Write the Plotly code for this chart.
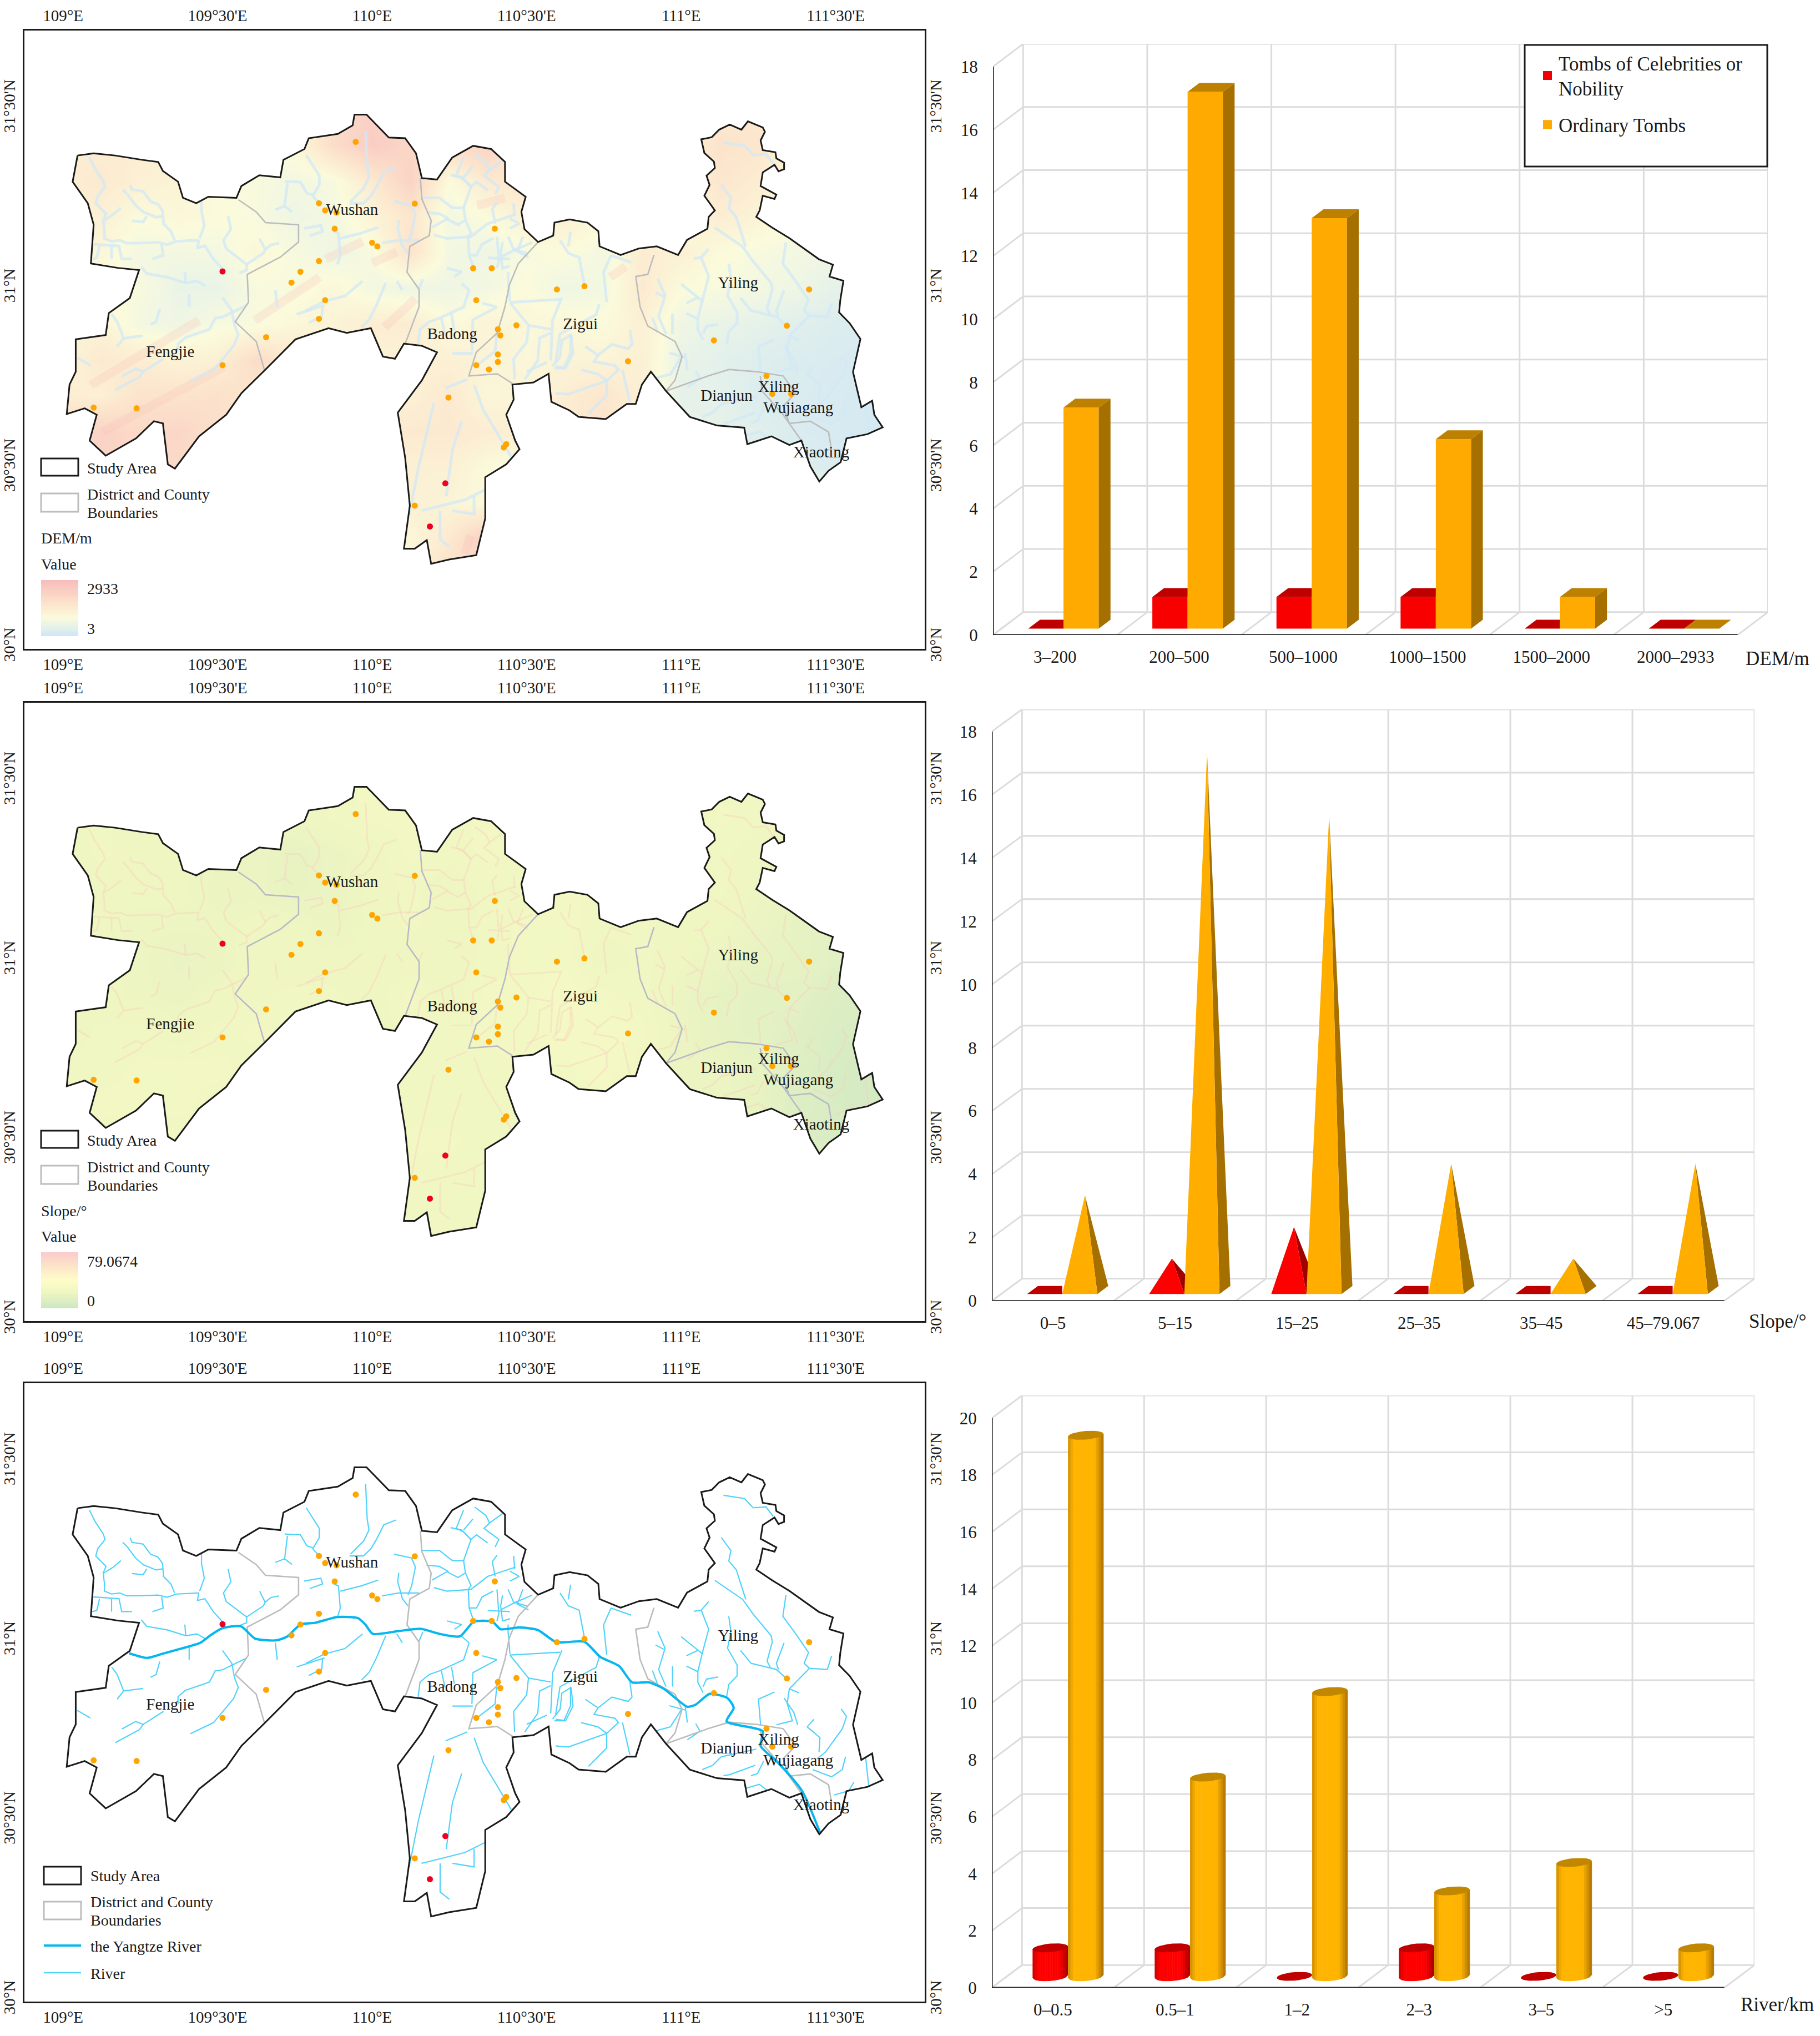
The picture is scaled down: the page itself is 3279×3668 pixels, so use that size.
import math
import plotly.graph_objects as go

W, H = 3279, 3668
FONT = "Liberation Serif"

# ---------- DATA ----------
outline_lon = [109.047,109.099,109.168,109.255,109.308,109.323,109.372,109.388,109.431,109.470,109.561,109.577,109.635,109.703,109.713,109.781,109.795,109.889,109.937,109.943,109.982,110.054,110.107,110.142,110.161,110.210,110.259,110.327,110.385,110.430,110.430,110.497,110.483,110.493,110.537,110.586,110.590,110.639,110.697,110.732,110.736,110.804,110.863,110.921,110.990,111.019,111.085,111.089,111.109,111.075,111.092,111.082,111.109,111.106,111.075,111.065,111.099,111.123,111.157,111.195,111.216,111.264,111.271,111.257,111.264,111.305,111.308,111.333,111.333,111.315,111.302,111.264,111.257,111.308,111.302,111.264,111.254,111.243,111.295,111.350,111.446,111.491,111.480,111.525,111.515,111.511,111.545,111.580,111.556,111.583,111.618,111.625,111.652,111.603,111.535,111.516,111.477,111.447,111.418,111.389,111.350,111.292,111.214,111.204,111.116,111.028,110.951,110.902,110.873,110.853,110.824,110.756,110.668,110.639,110.580,110.571,110.522,110.454,110.458,110.434,110.463,110.477,110.434,110.366,110.366,110.337,110.249,110.191,110.177,110.138,110.103,110.122,110.107,110.083,110.161,110.210,110.161,110.103,110.074,110.035,109.996,109.918,109.859,109.752,109.655,109.577,109.528,109.440,109.362,109.339,109.323,109.294,109.236,109.138,109.086,109.109,109.070,109.012,109.021,109.041,109.041,109.138,109.148,109.216,109.246,109.177,109.090,109.099,109.080,109.031,109.047]
outline_lat = [31.369,31.375,31.369,31.357,31.351,31.326,31.296,31.251,31.236,31.254,31.251,31.284,31.314,31.308,31.357,31.387,31.417,31.429,31.453,31.483,31.483,31.419,31.417,31.375,31.306,31.302,31.363,31.396,31.387,31.351,31.296,31.254,31.212,31.164,31.128,31.146,31.182,31.191,31.182,31.158,31.116,31.092,31.110,31.116,31.092,31.134,31.165,31.198,31.216,31.257,31.287,31.313,31.334,31.352,31.376,31.414,31.420,31.441,31.455,31.441,31.464,31.447,31.435,31.411,31.384,31.378,31.361,31.349,31.331,31.325,31.343,31.322,31.284,31.260,31.248,31.257,31.216,31.198,31.168,31.139,31.080,31.065,31.032,31.020,30.967,30.932,30.902,30.858,30.766,30.668,30.686,30.647,30.612,30.593,30.581,30.515,30.491,30.461,30.503,30.575,30.563,30.587,30.565,30.611,30.617,30.641,30.713,30.767,30.731,30.677,30.677,30.635,30.641,30.659,30.683,30.761,30.737,30.731,30.689,30.647,30.575,30.551,30.509,30.473,30.358,30.256,30.244,30.232,30.298,30.274,30.274,30.394,30.527,30.653,30.743,30.821,30.839,30.845,30.803,30.809,30.888,30.875,30.888,30.857,30.773,30.707,30.647,30.587,30.497,30.509,30.623,30.629,30.581,30.533,30.575,30.647,30.665,30.649,30.731,30.767,30.857,30.869,30.930,30.972,31.050,31.056,31.068,31.176,31.236,31.296,31.369]

boundaries = [
    [(109.567,31.246),(109.625,31.212),(109.655,31.182),(109.762,31.176),(109.762,31.128),(109.703,31.086),(109.596,31.038),(109.600,30.960),(109.557,30.906),(109.625,30.851),(109.651,30.773)],
    [(110.156,31.306),(110.161,31.248),(110.191,31.188),(110.185,31.146),(110.122,31.116),(110.113,31.044),(110.152,30.996),(110.152,30.948),(110.107,30.845)],
    [(110.537,31.128),(110.473,31.068),(110.444,31.008),(110.430,30.948),(110.405,30.875),(110.337,30.821),(110.313,30.755),(110.405,30.761),(110.454,30.734)],
    [(110.912,31.092),(110.892,31.038),(110.853,31.032),(110.867,30.948),(110.892,30.894),(110.980,30.851),(111.003,30.809),(110.980,30.743),(110.951,30.713)],
    [(110.951,30.713),(111.087,30.755),(111.155,30.773),(111.243,30.767),(111.330,30.755),(111.370,30.707),(111.330,30.671),(111.350,30.623),(111.418,30.629),(111.477,30.599),(111.486,30.551)],
    [(111.256,30.755),(111.262,30.713),(111.330,30.647),(111.389,30.575)],
]

yangtze = [(109.214,30.965),(109.271,30.952),(109.319,30.963),(109.361,30.973),(109.444,30.994),(109.480,31.017),(109.516,31.035),(109.576,31.040),(109.621,31.006),(109.690,31.001),(109.726,31.012),(109.768,31.045),(109.816,31.050),(109.888,31.066),(109.954,31.063),(109.978,31.045),(110.002,31.019),(110.086,31.027),(110.158,31.033),(110.218,31.019),(110.284,31.012),(110.329,31.053),(110.389,31.053),(110.416,31.032),(110.476,31.037),(110.536,31.030),(110.596,30.996),(110.687,30.997),(110.738,30.955),(110.800,30.929),(110.841,30.884),(110.896,30.884),(110.944,30.866),(111.020,30.816),(111.047,30.822),(111.092,30.852),(111.150,30.840),(111.170,30.813),(111.147,30.775),(111.264,30.748),(111.257,30.707),(111.315,30.659),(111.391,30.582),(111.451,30.462)]

rivers = [
    [(109.085,31.364),(109.103,31.333),(109.130,31.297),(109.136,31.282),(109.112,31.256),(109.106,31.236),(109.139,31.207),(109.130,31.189),(109.134,31.158),(109.134,31.138),(109.157,31.130),(109.184,31.133),(109.205,31.125),(109.241,31.125),(109.307,31.127),(109.337,31.121),(109.367,31.130),(109.439,31.133)],
    [(109.439,31.133),(109.435,31.112),(109.459,31.117),(109.486,31.081),(109.519,31.050)],
    [(109.448,31.241),(109.448,31.215),(109.457,31.174),(109.442,31.138)],
    [(109.067,31.179),(109.073,31.143),(109.097,31.122),(109.181,31.117),(109.190,31.081),(109.223,31.081)],
    [(109.118,31.117),(109.109,31.084),(109.094,31.081)],
    [(109.157,31.117),(109.157,31.081)],
    [(109.319,31.122),(109.324,31.091),(109.289,31.081)],
    [(109.193,31.274),(109.208,31.261),(109.235,31.230),(109.259,31.212),(109.301,31.197),(109.322,31.200)],
    [(109.217,31.287),(109.223,31.274),(109.259,31.269),(109.283,31.241),(109.307,31.233),(109.322,31.215),(109.325,31.179),(109.349,31.158),(109.361,31.133)],
    [(109.187,31.223),(109.163,31.205),(109.133,31.189)],
    [(109.271,31.200),(109.259,31.184),(109.223,31.187)],
    [(109.253,31.058),(109.271,31.040),(109.337,31.030),(109.397,31.014),(109.433,31.019),(109.460,31.006)],
    [(109.394,31.045),(109.397,31.014)],
    [(109.534,31.200),(109.543,31.164),(109.519,31.133),(109.528,31.109),(109.594,31.066),(109.594,31.050),(109.570,31.042)],
    [(109.594,31.066),(109.648,31.097),(109.654,31.107),(109.636,31.138)],
    [(109.654,31.107),(109.672,31.120),(109.699,31.125)],
    [(109.787,31.370),(109.829,31.313),(109.829,31.287),(109.808,31.256),(109.829,31.236)],
    [(109.717,31.297),(109.768,31.295),(109.789,31.264),(109.808,31.259)],
    [(109.726,31.292),(109.717,31.228),(109.687,31.218)],
    [(109.717,31.228),(109.741,31.212)],
    [(109.780,31.166),(109.834,31.174),(109.840,31.158),(109.798,31.145)],
    [(109.516,30.973),(109.546,30.937),(109.555,30.896),(109.567,30.870),(109.552,30.839),(109.487,30.772),(109.412,30.741)],
    [(109.594,30.952),(109.546,30.932),(109.516,30.919),(109.492,30.916),(109.474,30.885),(109.396,30.862),(109.372,30.844),(109.372,30.824)],
    [(109.325,30.803),(109.259,30.767),(109.235,30.775),(109.190,30.754)],
    [(109.259,30.767),(109.247,30.752),(109.169,30.716)],
    [(109.157,30.927),(109.175,30.906),(109.196,30.860),(109.259,30.867)],
    [(109.196,30.860),(109.175,30.837)],
    [(109.313,30.942),(109.301,30.906),(109.283,30.898)],
    [(109.408,30.983),(109.408,30.947)],
    [(109.687,30.994),(109.693,30.947)],
    [(109.046,30.806),(109.088,30.785)],
    [(109.756,30.927),(109.846,30.952)],
    [(109.840,30.950),(109.837,30.921),(109.795,30.903)],
    [(109.979,31.437),(109.984,31.339),(109.990,31.308),(109.972,31.277),(109.930,31.241)],
    [(110.077,31.336),(110.038,31.323),(110.014,31.282),(109.996,31.256),(109.972,31.236),(109.927,31.236)],
    [(109.876,31.158),(109.891,31.153),(109.897,31.091),(109.888,31.066)],
    [(109.897,31.138),(109.966,31.153),(110.020,31.169)],
    [(110.032,31.125),(110.086,31.133),(110.152,31.133)],
    [(110.086,31.189),(110.083,31.164),(110.098,31.117),(110.116,31.097)],
    [(110.071,31.241),(110.128,31.230),(110.140,31.205),(110.128,31.153),(110.116,31.127)],
    [(110.158,31.251),(110.218,31.251),(110.260,31.223),(110.296,31.223),(110.302,31.189),(110.278,31.176),(110.242,31.192),(110.194,31.169)],
    [(110.176,31.210),(110.218,31.207),(110.248,31.192)],
    [(110.296,31.223),(110.320,31.282),(110.338,31.295),(110.374,31.272)],
    [(110.320,31.282),(110.290,31.308),(110.254,31.315)],
    [(110.302,31.189),(110.320,31.153),(110.311,31.143),(110.314,31.091),(110.329,31.055)],
    [(110.200,31.148),(110.242,31.138),(110.320,31.143),(110.374,31.179),(110.464,31.205)],
    [(110.398,31.179),(110.389,31.220),(110.404,31.238)],
    [(110.332,31.372),(110.368,31.349),(110.380,31.328),(110.422,31.354)],
    [(110.380,31.328),(110.362,31.313),(110.410,31.282),(110.398,31.261)],
    [(110.296,31.364),(110.272,31.313),(110.296,31.303),(110.320,31.282)],
    [(110.326,31.339),(110.296,31.308)],
    [(110.404,31.143),(110.410,31.076),(110.404,31.055)],
    [(110.392,31.138),(110.356,31.122),(110.338,31.091),(110.314,31.091)],
    [(110.518,31.127),(110.464,31.107),(110.416,31.086)],
    [(110.488,31.143),(110.470,31.102),(110.506,31.086)],
    [(110.440,31.143),(110.458,31.107),(110.500,31.097)],
    [(110.422,31.127),(110.416,31.097),(110.422,31.055),(110.446,31.061)],
    [(110.374,31.084),(110.446,31.081)],
    [(110.440,31.045),(110.440,31.024),(110.446,30.963)],
    [(110.458,31.236),(110.461,31.200)],
    [(110.446,31.194),(110.476,31.179),(110.446,31.166)],
    [(110.608,30.968),(110.446,30.960)],
    [(110.356,30.958),(110.404,30.947),(110.326,30.911),(110.323,30.824)],
    [(110.446,30.960),(110.506,30.896),(110.500,30.849),(110.458,30.803),(110.461,30.746)],
    [(110.614,30.973),(110.584,30.911),(110.578,30.798)],
    [(110.578,30.885),(110.506,30.896)],
    [(110.578,30.875),(110.542,30.860),(110.536,30.798),(110.494,30.746)],
    [(110.566,30.793),(110.500,30.767)],
    [(110.644,30.870),(110.614,30.854),(110.608,30.808),(110.584,30.782)],
    [(110.644,30.870),(110.650,30.818),(110.626,30.777),(110.590,30.777)],
    [(110.314,30.994),(110.296,30.947),(110.218,30.916),(110.185,30.906),(110.155,30.885),(110.149,30.844)],
    [(110.257,30.927),(110.266,30.880)],
    [(110.224,30.916),(110.236,30.870)],
    [(110.290,31.012),(110.314,30.994)],
    [(110.044,31.014),(110.014,30.952),(109.990,30.911),(109.966,30.891)],
    [(109.969,31.019),(109.912,30.978),(109.846,30.963),(109.786,30.937)],
    [(110.164,31.024),(110.152,30.999)],
    [(110.080,31.019),(110.098,30.994)],
    [(110.404,30.880),(110.398,30.824),(110.344,30.788)],
    [(110.260,30.818),(110.326,30.818)],
    [(110.242,31.055),(110.290,31.045),(110.266,31.032)],
    [(110.238,30.721),(110.308,30.746)],
    [(110.608,31.133),(110.635,31.097),(110.670,31.085),(110.687,31.008)],
    [(110.642,31.156),(110.635,31.115)],
    [(110.773,31.091),(110.749,31.044),(110.759,30.961)],
    [(110.773,31.091),(110.838,31.071)],
    [(110.735,30.955),(110.725,30.926),(110.608,30.872),(110.594,30.795)],
    [(110.834,30.884),(110.841,30.843),(110.828,30.831),(110.776,30.843),(110.731,30.813),(110.690,30.837)],
    [(110.731,30.813),(110.718,30.795),(110.786,30.784),(110.797,30.772),(110.759,30.742),(110.635,30.704),(110.594,30.707)],
    [(110.676,30.772),(110.731,30.760),(110.759,30.742),(110.759,30.701),(110.700,30.650)],
    [(110.810,30.772),(110.834,30.683)],
    [(110.642,30.872),(110.642,30.819),(110.621,30.778),(110.594,30.781)],
    [(110.924,31.026),(110.948,30.979),(110.927,30.920),(110.951,30.872)],
    [(110.917,30.988),(110.944,30.976)],
    [(110.972,30.929),(110.972,30.872)],
    [(110.907,30.917),(110.924,30.878)],
    [(111.000,31.011),(111.068,30.964),(111.089,31.032),(111.065,31.085),(111.089,31.109)],
    [(111.041,31.082),(111.065,31.085)],
    [(111.017,30.958),(111.054,30.973)],
    [(111.068,30.964),(111.054,30.914),(111.054,30.884),(111.071,30.855)],
    [(111.017,30.929),(111.054,30.914)],
    [(111.120,30.899),(111.082,30.893),(111.071,30.872)],
    [(111.154,31.068),(111.161,31.026),(111.150,30.979),(111.181,30.932),(111.181,30.902),(111.154,30.878),(111.147,30.843)],
    [(111.130,31.287),(111.161,31.251),(111.154,31.222),(111.178,31.198),(111.209,31.115)],
    [(111.109,31.168),(111.199,31.115),(111.233,31.074),(111.291,31.014),(111.295,30.997),(111.278,30.943),(111.288,30.926)],
    [(111.137,31.405),(111.205,31.396),(111.233,31.370),(111.274,31.373),(111.298,31.346)],
    [(111.192,30.973),(111.226,30.937),(111.308,30.920),(111.339,30.896)],
    [(111.333,30.994),(111.308,30.937),(111.315,30.920)],
    [(111.339,31.127),(111.329,31.068),(111.370,31.020),(111.412,30.967),(111.398,30.937),(111.415,30.923),(111.473,30.920),(111.487,30.958)],
    [(111.415,30.923),(111.350,30.866),(111.343,30.825),(111.360,30.777),(111.308,30.766)],
    [(111.302,30.857),(111.250,30.837),(111.257,30.766)],
    [(111.350,30.866),(111.381,30.855)],
    [(111.333,30.840),(111.364,30.801),(111.377,30.766)],
    [(111.518,30.810),(111.535,30.789),(111.521,30.754),(111.466,30.689),(111.439,30.671)],
    [(111.429,30.781),(111.408,30.760),(111.449,30.730),(111.446,30.689)],
    [(111.532,30.677),(111.521,30.641),(111.487,30.621),(111.425,30.641)],
    [(111.597,30.674),(111.607,30.594)],
    [(111.267,30.665),(111.247,30.630),(111.226,30.624)],
    [(111.240,30.653),(111.157,30.627),(111.137,30.624)],
    [(111.130,30.677),(111.102,30.653),(111.068,30.641)],
    [(111.243,30.698),(111.130,30.677)],
    [(111.000,30.807),(110.965,30.760),(110.913,30.748),(110.910,30.724)],
    [(111.013,30.819),(111.020,30.772)],
    [(111.047,30.769),(111.061,30.748),(111.020,30.724)],
    [(110.962,30.819),(111.013,30.807)],
    [(111.494,30.570),(111.542,30.582),(111.559,30.606)],
    [(111.205,30.588),(111.253,30.600),(111.281,30.582)],
    [(110.20,30.68),(110.15,30.50),(110.12,30.37)],
    [(110.16,30.38),(110.30,30.41),(110.37,30.44)],
    [(110.22,30.38),(110.22,30.30),(110.25,30.28)],
    [(110.29,30.63),(110.26,30.55),(110.24,30.42)],
    [(110.33,30.73),(110.36,30.66),(110.45,30.53)],
    [(110.33,30.42),(110.33,30.37),(110.26,30.38)],
]

ridges = [
    [(109.09,30.73),(109.44,30.91)],
    [(109.13,30.60),(109.52,30.78)],
    [(109.62,30.91),(109.83,31.03)],
    [(109.85,31.08),(109.97,31.13)],
    [(110.00,31.07),(110.08,31.10)],
    [(110.04,30.89),(110.14,30.97)],
    [(110.34,31.23),(110.43,31.25)],
    [(110.77,31.03),(110.82,31.06)],
    [(110.32,30.31),(110.30,30.26)],
]

red_lon = [109.516,110.237,110.187]
red_lat = [31.046,30.456,30.336]
ord_lon = [109.947,109.828,109.848,109.885,109.879,110.138,110.000,110.017,109.828,109.768,109.739,109.848,109.828,109.657,109.516,109.099,109.238,110.247,110.327,110.387,110.397,110.337,110.407,110.415,110.467,110.407,110.407,110.378,110.337,110.434,110.426,110.138,110.598,110.687,110.828,111.106,111.414,111.342,111.276,111.295,111.356]
ord_lat = [31.407,31.236,31.216,31.210,31.165,31.235,31.126,31.116,31.075,31.045,31.015,30.966,30.914,30.863,30.785,30.667,30.665,30.695,31.055,31.055,31.165,30.966,30.885,30.868,30.896,30.815,30.794,30.773,30.785,30.565,30.556,30.394,30.996,31.005,30.796,30.854,30.996,30.895,30.755,30.705,30.705]

place_names = ["Fengjie","Wushan","Badong","Zigui","Yiling","Dianjun","Xiling","Wujiagang","Xiaoting"]
place_lon = [109.347,109.935,110.259,110.674,111.184,111.147,111.315,111.379,111.453]
place_lat = [30.819,31.215,30.869,30.897,31.011,30.697,30.722,30.663,30.539]

lon_ticks = [109,109.5,110,110.5,111,111.5]
lon_labels = ["109°E","109°30'E","110°E","110°30'E","111°E","111°30'E"]
lat_ticks = [30,30.5,31,31.5]
lat_labels = ["30°N","30°30'N","31°N","31°30'N"]

grid_lons = [109.0+0.125*i for i in range(23)]
grid_lats = [30.2,30.3,30.4,30.5,30.6,30.7,30.8,30.9,31.0,31.1,31.2,31.3,31.4,31.5]
dem_grid = [
    [1000]*9+[1200,1800,2000]+[1000]*11,
    [1000]*9+[1100,1500,2400]+[1000]*11,
    [1000]*9+[1300,1200,1000]+[1000]*11,
    [2000,2200,2000,2000,1500,1000,1000,1000,1200,1300,1300,1000,900,1000,1000,900,500,400,300,300,300,200,150],
    [1900,2200,2000,2100,1800,1200,1000,1000,1300,1500,1500,1400,1300,1400,1700,1200,600,500,400,250,200,150,120],
    [1400,1300,1700,1700,1800,1600,1200,1200,1200,1300,1500,1100,1200,1400,1600,1300,500,500,300,250,200,180,150],
    [1200,1500,1400,1200,1300,1900,1500,1200,1200,1300,1300,1200,1100,1200,1200,1300,600,450,350,280,230,200,180],
    [1100,1200,800,700,900,900,1100,1200,1400,1400,1000,1200,1100,1100,1000,1300,700,600,500,400,300,250,200],
    [1000,1000,900,600,600,900,900,1100,800,700,700,800,1000,700,800,1500,1000,900,800,700,500,400,350],
    [1000,1100,800,800,800,1100,900,700,900,1700,800,700,900,1000,800,1400,1300,1000,900,800,700,500,400],
    [1200,1300,1000,1100,1000,900,700,800,1200,1600,800,1000,1300,1300,1100,1000,1000,1400,1200,1000,1000,900,800],
    [1400,1500,1300,1200,1000,900,800,900,1500,2200,1000,1500,1600,1100,1000,1000,1200,1600,1400,1100,1000,900,800],
    [1300,1400,1400,1300,1100,1000,1000,1900,2400,2100,1900,2200,1500,1000,1000,1000,1300,1700,1600,1100,1000,900,800],
    [1300,1300,1300,1300,1100,1000,1000,1800,2300,1800,1500,1800,1200,1000,1000,1000,1200,1500,1500,1100,1000,900,800],
]
slope_grid = [
    [24]*23,
    [24]*23,
    [24]*23,
    [24,24,24,24,24,22,22,22,24,26,26,24,24,24,24,22,18,18,16,10,8,6,6],
    [26,26,26,26,24,22,22,22,24,24,24,24,24,24,26,22,20,20,18,12,8,6,6],
    [24,24,26,26,26,24,22,22,22,24,24,24,26,26,28,24,20,20,18,12,8,6,6],
    [22,24,24,22,24,26,24,24,22,24,24,26,26,28,28,26,20,17,15,13,9,8,8],
    [22,22,21,20,22,23,24,24,22,26,22,26,26,28,26,24,20,17,15,15,11,9,9],
    [21,22,21,19,20,23,22,22,22,22,22,24,26,26,22,24,22,20,18,17,14,12,12],
    [22,22,21,21,21,22,22,20,22,24,22,24,26,26,24,24,22,22,20,17,14,14,12],
    [22,22,22,22,20,20,18,20,22,24,22,24,24,26,24,22,22,24,21,18,15,15,14],
    [22,24,22,22,21,20,18,20,22,26,24,26,24,24,22,21,21,24,22,18,16,15,15],
    [22,24,22,21,21,21,21,24,26,26,24,26,22,21,21,21,21,26,24,19,17,16,15],
    [21,21,21,21,21,21,21,24,26,24,22,24,21,21,21,21,21,24,24,21,19,17,16],
]

dem_cats = ["3–200","200–500","500–1000","1000–1500","1500–2000","2000–2933"]
dem_red = [0,1,1,1,0,0]
dem_ord = [7,17,13,6,1,0]
slope_cats = ["0–5","5–15","15–25","25–35","35–45","45–79.067"]
slope_red = [0,1,2,0,0,0]
slope_ord = [3,17,15,4,1,4]
river_cats = ["0–0.5","0.5–1","1–2","2–3","3–5",">5"]
river_red = [1,1,0,1,0,0]
river_ord = [19,7,10,3,4,1]

# ---------- STYLE ----------
DEM_SCALE = [[0,"#cfe6f6"],[0.16,"#e4f1ea"],[0.33,"#fbfbdc"],[0.55,"#fce6cd"],[1,"#f8bcbc"]]
SLOPE_SCALE = [[0,"#cbe6c4"],[0.28,"#eff6c2"],[0.5,"#fdfdc8"],[1,"#fbcaca"]]
RED, RED_TOP, RED_SIDE = "#f80000", "#bf0000", "#a00000"
ORG, ORG_TOP, ORG_SIDE = "#ffaa00", "#bd8000", "#a67000"
GRID = "#dcdcdc"
BLACK = "#1a1a1a"
RIVER_C, YANG_C = "#4fd2fb", "#06b6ee"

LON_RANGE = [108.875, 111.788]
LAT_RANGE = [29.995, 31.717]
MAP_L, MAP_R, MAP_H = 44, 1666, 1114

fig = go.Figure()
layout = dict(width=W, height=H, margin=dict(l=0,r=0,t=0,b=0), autosize=False,
              paper_bgcolor="white", plot_bgcolor="white", barmode="overlay", showlegend=True,
              font=dict(family=FONT, color=BLACK, size=30))
shapes, annos = [], []

def xdom(a,b): return [a/W, b/W]
def ydom(top,bot): return [1-bot/H, 1-top/H]

def anno(px, py, text, size=28, anchor="left"):
    annos.append(dict(x=px/W, y=1-py/H, xref="paper", yref="paper", text=text, showarrow=False,
                      xanchor=anchor, yanchor="middle", font=dict(family=FONT, size=size, color=BLACK)))

def rect_paper(x0,y0,x1,y1,color,width,fill="white"):
    shapes.append(dict(type="rect", xref="paper", yref="paper", x0=x0/W, x1=x1/W, y0=1-y0/H, y1=1-y1/H,
                       line=dict(color=color,width=width), fillcolor=fill, layer="above"))

def line_paper(x0,x1,y,color,width):
    shapes.append(dict(type="line", xref="paper", yref="paper", x0=x0/W, x1=x1/W, y0=1-y/H, y1=1-y/H,
                       line=dict(color=color,width=width), layer="above"))

def joined(lines):
    xs, ys = [], []
    for ln in lines:
        xs += [p[0] for p in ln] + [None]
        ys += [p[1] for p in ln] + [None]
    return xs, ys

def add_map(idx, top, heat, scale, zmin, zmax, kind):
    a, b = 2*idx+1, 2*idx+2
    xa = "x" if a == 1 else f"x{a}"
    ya = "y" if a == 1 else f"y{a}"
    xb, yb = f"x{b}", f"y{b}"
    bot = top + MAP_H
    tick = dict(family=FONT, size=29, color=BLACK)
    layout["xaxis" if a == 1 else f"xaxis{a}"] = dict(domain=xdom(MAP_L,MAP_R), range=LON_RANGE, anchor=ya, tickvals=lon_ticks, ticktext=lon_labels,
        showgrid=False, zeroline=False, showline=True, mirror=True, linewidth=3, linecolor=BLACK, ticks="", tickfont=tick, tickangle=0, automargin=False)
    layout["yaxis" if a == 1 else f"yaxis{a}"] = dict(domain=ydom(top,bot), range=LAT_RANGE, anchor=xa, tickvals=lat_ticks, ticktext=lat_labels,
        showgrid=False, zeroline=False, showline=True, mirror=True, linewidth=3, linecolor=BLACK, ticks="outside", ticklen=2, tickcolor="rgba(0,0,0,0)", tickfont=tick, tickangle=-90, automargin=False)
    layout[f"xaxis{b}"] = dict(domain=xdom(MAP_L,MAP_R), range=LON_RANGE, anchor=yb, overlaying=xa, side="top", tickvals=lon_ticks, ticktext=lon_labels,
        showgrid=False, zeroline=False, showline=False, ticks="outside", ticklen=4, tickcolor="rgba(0,0,0,0)", tickfont=tick, tickangle=0, automargin=False)
    layout[f"yaxis{b}"] = dict(domain=ydom(top,bot), range=LAT_RANGE, anchor=xb, overlaying=ya, side="right", tickvals=lat_ticks, ticktext=lat_labels,
        showgrid=False, zeroline=False, showline=False, ticks="", tickfont=tick, tickangle=-90, automargin=False)
    base = dict(xaxis=xa, yaxis=ya, showlegend=False, hoverinfo="skip")
    if heat is not None:
        fig.add_trace(go.Heatmap(x=grid_lons, y=grid_lats, z=heat, colorscale=scale, zmin=zmin, zmax=zmax, zsmooth="best", showscale=False, **base))
    rx, ry = joined(ridges)
    rvx, rvy = joined(rivers)
    if kind == "dem":
        fig.add_trace(go.Scatter(x=rx, y=ry, mode="lines", line=dict(color="rgba(248,190,185,0.25)", width=16), **base))
        fig.add_trace(go.Scatter(x=rvx, y=rvy, mode="lines", line=dict(color="rgba(210,232,246,0.75)", width=5), **base))
    elif kind == "slope":
        fig.add_trace(go.Scatter(x=rvx, y=rvy, mode="lines", line=dict(color="rgba(248,205,190,0.4)", width=3), **base))
    else:
        fig.add_trace(go.Scatter(x=rvx, y=rvy, mode="lines", line=dict(color=RIVER_C, width=2.2), **base))
    # white mask outside the study area (keyhole path)
    mx = [108.7,108.7,112.0,112.0,108.7] + outline_lon + [108.7]
    my = [31.9,29.8,29.8,31.9,31.9] + outline_lat + [31.9]
    fig.add_trace(go.Scatter(x=mx, y=my, mode="lines", fill="toself", fillcolor="white", line=dict(width=0), **base))
    bx, by = joined(boundaries)
    fig.add_trace(go.Scatter(x=bx, y=by, mode="lines", line=dict(color="#bcbcbc" if kind != "slope" else "#b9b9c6", width=2.6), **base))
    if kind == "river":
        fig.add_trace(go.Scatter(x=[p[0] for p in yangtze], y=[p[1] for p in yangtze], mode="lines", line=dict(color=YANG_C, width=4.2, shape="spline", smoothing=0.6), **base))
    fig.add_trace(go.Scatter(x=outline_lon, y=outline_lat, mode="lines", line=dict(color=BLACK, width=3), **base))
    fig.add_trace(go.Scatter(x=ord_lon, y=ord_lat, mode="markers", marker=dict(color="#ffa500", size=11), **base))
    fig.add_trace(go.Scatter(x=red_lon, y=red_lat, mode="markers", marker=dict(color="#ee0020", size=11), **base))
    fig.add_trace(go.Scatter(x=place_lon, y=place_lat, mode="text", text=place_names, textposition="middle center",
                             textfont=dict(family=FONT, size=29, color=BLACK), **base))
    over = dict(xaxis=xb, yaxis=yb, showlegend=False, hoverinfo="skip")
    fig.add_trace(go.Scatter(x=[109], y=[30], mode="markers", marker=dict(size=1, opacity=0), **over))
    off = top - 55
    if kind == "river":
        rect_paper(79,3363,146,3395,BLACK,3)
        anno(161,3379,"Study Area")
        rect_paper(79,3426,146,3458,"#bdbdbd",3)
        anno(161,3426,"District and County")
        anno(161,3459,"Boundaries")
        line_paper(79,146,3505,YANG_C,4.2)
        anno(161,3506,"the Yangtze River")
        line_paper(79,146,3554,RIVER_C,2.5)
        anno(161,3555,"River")
    else:
        rect_paper(74,826+off,141,857+off,BLACK,3)
        anno(155,843+off,"Study Area")
        rect_paper(74,889+off,141,922+off,"#bdbdbd",3)
        anno(155,891+off,"District and County")
        anno(155,924+off,"Boundaries")
        anno(72,970+off,"DEM/m" if kind == "dem" else "Slope/°")
        anno(72,1016+off,"Value")
        anno(155,1061+off,"2933" if kind == "dem" else "79.0674")
        anno(155,1132+off,"3" if kind == "dem" else "0")
        # legend ramp through the same colour scale
        sp = LON_RANGE[1]-LON_RANGE[0]
        lx = [LON_RANGE[0]+(p-MAP_L)/(MAP_R-MAP_L)*sp for p in (74,141)]
        n = 30
        t0, t1 = 1045+off, 1146+off
        ly = [LAT_RANGE[1]-(t1-(t1-t0)*i/n-top)/MAP_H*(LAT_RANGE[1]-LAT_RANGE[0]) for i in range(n+1)]
        lz = [[zmin+(zmax-zmin)*(i+0.5)/n] for i in range(n)]
        fig.add_trace(go.Heatmap(x=lx, y=ly, z=lz, colorscale=scale, zmin=zmin, zmax=zmax, showscale=False, **over))

def chart_axes(num, x0, x1, top, bot, n, ymax, DX, DY, cats):
    xa, ya = f"x{num}", f"y{num}"
    layout[f"xaxis{num}"] = dict(domain=xdom(x0,x1), range=[0,n+DX], anchor=ya, tickvals=[k+0.5 for k in range(n)], ticktext=cats,
        showgrid=False, zeroline=False, showline=False, ticks="outside", ticklen=12, tickcolor="rgba(0,0,0,0)", tickfont=dict(family=FONT,size=31,color=BLACK), tickangle=0, automargin=False)
    layout[f"yaxis{num}"] = dict(domain=ydom(top,bot), range=[0,ymax+DY], anchor=xa, tickvals=list(range(0,ymax+1,2)),
        showgrid=False, zeroline=False, showline=False, ticks="outside", ticklen=20, tickcolor="rgba(0,0,0,0)", tickfont=dict(family=FONT,size=31,color=BLACK), automargin=False)
    def ln(a,b,c,d):
        shapes.append(dict(type="line", xref=xa, yref=ya, x0=a, y0=b, x1=c, y1=d, layer="below", line=dict(color=GRID,width=3)))
    for v in range(0,ymax+1,2):
        ln(0,v,DX,v+DY)
        ln(DX,v+DY,n+DX,v+DY)
    for k in range(n+1):
        ln(k,0,k+DX,DY)
        ln(k+DX,DY,k+DX,ymax+DY)
    fig.add_trace(go.Scatter(x=[0,0,n], y=[ymax,0,0], mode="lines", line=dict(color=BLACK,width=3), cliponaxis=False,
                             xaxis=xa, yaxis=ya, showlegend=False, hoverinfo="skip"))

def poly_trace(polys, color, xa, ya, lw=0):
    xs, ys = joined(polys)
    fig.add_trace(go.Scatter(x=xs, y=ys, mode="lines", fill="toself", fillcolor=color,
                             line=dict(color=color,width=lw), xaxis=xa, yaxis=ya, showlegend=False, hoverinfo="skip"))

def chart_box(num, cats, red, org, DX, DY):
    xa, ya = f"x{num}", f"y{num}"
    w, d0, d1 = 0.284, 0.28, 0.67
    n = len(cats)
    def faces(l, r, v):
        top = [(l+d0*DX,d0*DY+v),(r+d0*DX,d0*DY+v),(r+d1*DX,d1*DY+v),(l+d1*DX,d1*DY+v)]
        side = [(r+d0*DX,d0*DY),(r+d1*DX,d1*DY),(r+d1*DX,d1*DY+v),(r+d0*DX,d0*DY+v)]
        return top, side
    fig.add_trace(go.Bar(x=[k+0.5-w/2+d0*DX for k in range(n)], y=red, base=[d0*DY]*n, width=w, marker=dict(color=RED,line=dict(width=0)),
                         xaxis=xa, yaxis=ya, hoverinfo="skip", showlegend=False))
    fig.add_trace(go.Bar(x=[k+0.5+w/2+d0*DX for k in range(n)], y=org, base=[d0*DY]*n, width=w, marker=dict(color=ORG,line=dict(width=0)),
                         xaxis=xa, yaxis=ya, hoverinfo="skip", showlegend=False))
    rt, ot, os_ = [], [], []
    for k in range(n):
        c = k+0.5
        top, _ = faces(c-w, c, red[k])
        if org[k] > red[k]:
            top[2] = (c+d0*DX, d1*DY+red[k])
        rt.append(top)
        t2, s2 = faces(c, c+w, org[k])
        ot.append(t2)
        if org[k] > 0:
            os_.append(s2)
    poly_trace(rt, RED_TOP, xa, ya)
    poly_trace(os_, ORG_SIDE, xa, ya)
    poly_trace(ot, ORG_TOP, xa, ya)
    # legend keys
    fig.add_trace(go.Scatter(x=[None], y=[None], mode="markers", marker=dict(symbol="square", size=16, color="#f00000"),
                             name="Tombs of Celebrities or<br>Nobility", xaxis=xa, yaxis=ya, legendgroup="a", hoverinfo="skip"))
    fig.add_trace(go.Scatter(x=[None], y=[None], mode="markers", marker=dict(symbol="square", size=16, color=ORG),
                             name="Ordinary Tombs", xaxis=xa, yaxis=ya, legendgroup="b", hoverinfo="skip"))

def chart_pyramid(num, cats, red, org, DX, DY):
    xa, ya = f"x{num}", f"y{num}"
    w, d0, d1, dm = 0.288, 0.31, 0.67, 0.48
    n = len(cats)
    def faces(l, r, v):
        apex = ((l+r)/2+dm*DX, v+dm*DY)
        front = [(l+d0*DX,d0*DY),(r+d0*DX,d0*DY),apex]
        side = [(r+d0*DX,d0*DY),(r+d1*DX,d1*DY),apex]
        return front, side
    rf, rs, rp, of, os_ = [], [], [], [], []
    for k in range(n):
        c = k+0.5
        if red[k] > 0:
            f, s = faces(c-w, c, red[k])
            rf.append(f); rs.append(s)
        else:
            rp.append([(c-w+d0*DX,d0*DY),(c+d0*DX,d0*DY),(c+d0*DX,d1*DY),(c-w+d1*DX,d1*DY)])
        f, s = faces(c, c+w, org[k])
        of.append(f); os_.append(s)
    poly_trace(rp, RED_TOP, xa, ya)
    poly_trace(rs, RED_SIDE, xa, ya)
    poly_trace(rf, "#ff0000", xa, ya)
    poly_trace(os_, ORG_SIDE, xa, ya)
    poly_trace(of, "#ffae00", xa, ya)

def mix(a, b, t):
    return "#%02x%02x%02x" % tuple(round(a[i]+(b[i]-a[i])*t) for i in range(3))

def chart_cyl(num, cats, red, org, DX, DY):
    xa, ya = f"x{num}", f"y{num}"
    w, d = 0.29, 0.5
    rx, ry, tilt = w/2, 0.15, 0.05
    n = len(cats)
    N = 14
    def series(vals, cx_off, dark, bright, cap):
        strips = [[] for _ in range(N)]
        caps = []
        for k in range(n):
            cx = k+0.5+cx_off+d*DX
            by = d*DY
            v = vals[k]
            if v > 0:
                for i in range(N):
                    u0, u1 = -1+2*i/N, -1+2*(i+1)/N
                    y0 = by-ry*math.sqrt(1-u0*u0)+tilt*u0
                    y1 = by-ry*math.sqrt(1-u1*u1)+tilt*u1
                    strips[i].append([(cx+u0*rx,y0),(cx+u1*rx,y1),(cx+u1*rx,by+v+tilt*u1),(cx+u0*rx,by+v+tilt*u0)])
            caps.append([(cx+rx*math.cos(a/24*2*math.pi), by+v+ry*math.sin(a/24*2*math.pi)+tilt*math.cos(a/24*2*math.pi)) for a in range(25)])
        for i in range(N):
            if strips[i]:
                u = -1+2*(i+0.5)/N
                t = max(0.0, 1-((u+0.1)/1.0)**2)
                poly_trace(strips[i], mix(dark,bright,min(1.0,t*1.5)), xa, ya, lw=1)
        poly_trace(caps, cap, xa, ya)
    series(red, -w/2, (176,0,0), (255,0,0), "#c00000")
    series(org, w/2, (184,122,0), (255,180,0), "#c28700")

# ---------- BUILD ----------
add_map(0, 55, dem_grid, DEM_SCALE, 3, 2933, "dem")
add_map(1, 1266, slope_grid, SLOPE_SCALE, 0, 79.0674, "slope")
add_map(2, 2492, None, None, 0, 1, "river")

dx1, dy1 = 0.243, 0.723
chart_axes(7, 1789, 3185, 79, 1144, 6, 18, dx1, dy1, dem_cats)
chart_box(7, dem_cats, dem_red, dem_ord, dx1, dy1)
dx2, dy2 = 0.247, 0.70
chart_axes(8, 1787, 3161, 1278, 2343.5, 6, 18, dx2, dy2, slope_cats)
chart_pyramid(8, slope_cats, slope_red, slope_ord, dx2, dy2)
dx3, dy3 = 0.247, 0.795
chart_axes(9, 1787, 3161, 2514, 3581, 6, 20, dx3, dy3, river_cats)
chart_cyl(9, river_cats, river_red, river_ord, dx3, dy3)

anno(3202,1186,"DEM/m",size=35,anchor="center")
anno(3202,2380,"Slope/°",size=35,anchor="center")
anno(3202,3611,"River/km",size=35,anchor="center")

rect_paper(2747,81,3184,300,BLACK,3)
layout["legend"] = dict(x=2768/W, y=1-84/H, xanchor="left", yanchor="top", bgcolor="rgba(0,0,0,0)", borderwidth=0,
                        font=dict(family=FONT,size=35,color=BLACK), tracegroupgap=17, itemclick=False, itemdoubleclick=False)
layout["shapes"] = shapes
layout["annotations"] = annos
fig.update_layout(**layout)
fig.write_html("out.html", post_script="document.body.style.margin='0';", config={"displayModeBar": False})
